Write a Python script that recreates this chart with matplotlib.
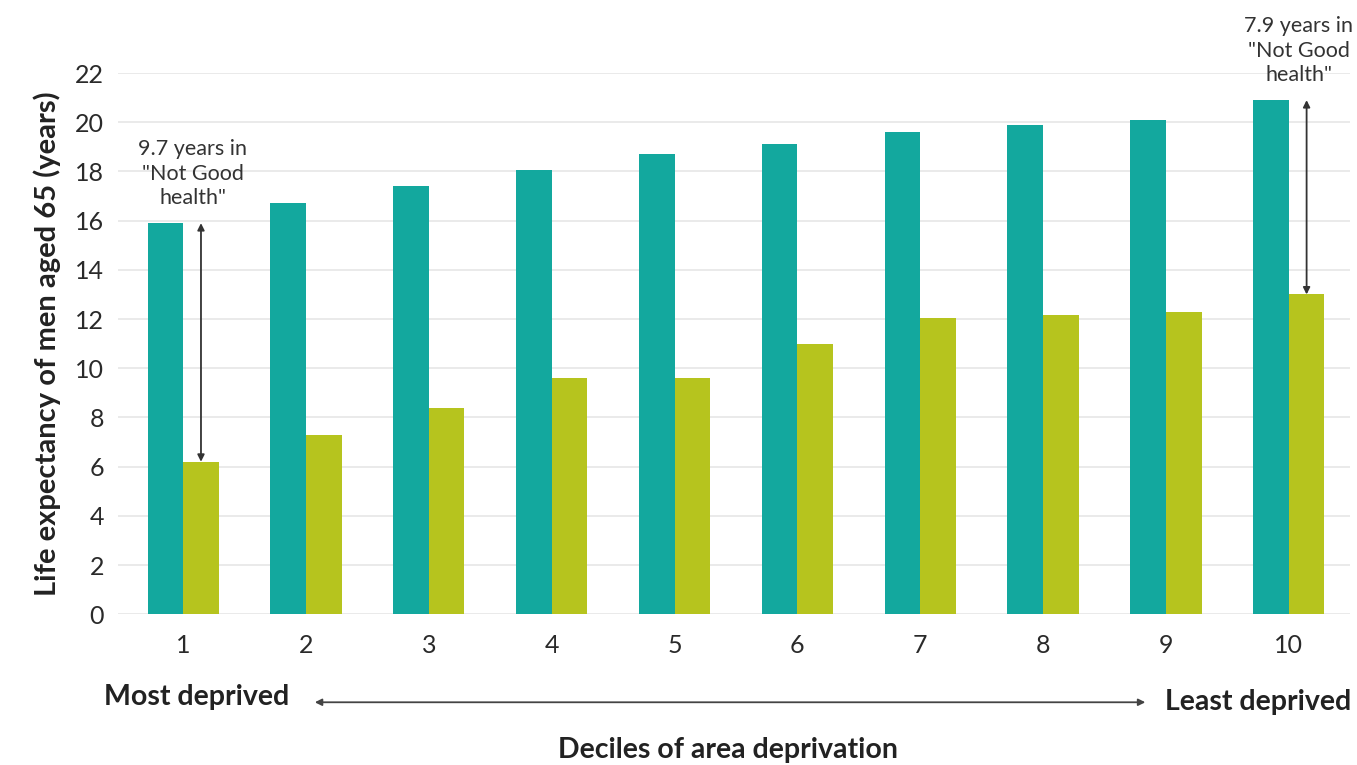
import matplotlib.pyplot as plt
import numpy as np

# Data
deciles = [1, 2, 3, 4, 5, 6, 7, 8, 9, 10]
life_expectancy = [15.9, 16.7, 17.4, 18.05, 18.7, 19.1, 19.6, 19.9, 20.1, 20.9]
good_health = [6.2, 7.3, 8.4, 9.6, 9.6, 11.0, 12.05, 12.15, 12.3, 13.0]
y_ticks = [0, 2, 4, 6, 8, 10, 12, 14, 16, 18, 20, 22]

teal = '#13a89e'
lime = '#b6c41e'

plt.rcParams['font.family'] = ['Lato', 'DejaVu Sans']

fig = plt.figure(figsize=(13.57, 7.65), dpi=100)
ax = fig.add_axes([0.087, 0.197, 0.908, 0.7075])

x = np.array(deciles)
w = 0.29
ax.bar(x - w / 2, life_expectancy, width=w, color=teal, zorder=3)
ax.bar(x + w / 2, good_health, width=w, color=lime, zorder=3)

ax.set_xlim(0.47, 10.5)
ax.set_ylim(0, 22)
ax.set_yticks(y_ticks)
ax.set_xticks(deciles)
ax.tick_params(axis='both', length=0, labelsize=18, colors='#2a2a2a')
ax.tick_params(axis='x', pad=14)
ax.tick_params(axis='y', pad=10)
ax.grid(axis='y', color='#e6e6e6', linewidth=1.2, zorder=0)
for s in ax.spines.values():
    s.set_visible(False)

ax.set_ylabel('Life expectancy of men aged 65 (years)', fontsize=21,
              fontweight='bold', color='#222222', labelpad=10)

# Gap arrows for first and last decile
for i in [0, 9]:
    xi = deciles[i] + w / 2
    ax.annotate('', xy=(xi, life_expectancy[i]), xytext=(xi, good_health[i]),
                arrowprops=dict(arrowstyle='<|-|>', color='#333333', lw=1.3,
                                mutation_scale=10, shrinkA=0, shrinkB=0),
                zorder=5)
    gap = life_expectancy[i] - good_health[i]
    label = f'{gap:.1f} years in\n"Not Good\nhealth"'
    ty = life_expectancy[i] + 0.6
    ax.text(deciles[i] + 0.08, ty, label, ha='center', va='bottom',
            fontsize=15.5, color='#333333', linespacing=1.3, clip_on=False)

# Deprivation direction arrow below the axis
fig.text(0.077, 0.089, 'Most deprived', fontsize=20.5, fontweight='bold',
         color='#222222', va='center', ha='left')
fig.text(0.996, 0.082, 'Least deprived', fontsize=20.5, fontweight='bold',
         color='#222222', va='center', ha='right')
ax.annotate('', xy=(0.844, 0.082), xytext=(0.232, 0.082),
            xycoords='figure fraction', textcoords='figure fraction',
            arrowprops=dict(arrowstyle='<|-|>', color='#444444', lw=1.3,
                            mutation_scale=10, shrinkA=0, shrinkB=0))
fig.text(0.5365, 0.02, 'Deciles of area deprivation', fontsize=20.5,
         fontweight='bold', color='#222222', ha='center', va='center')

fig.savefig('out.png', dpi=100, facecolor='white')
